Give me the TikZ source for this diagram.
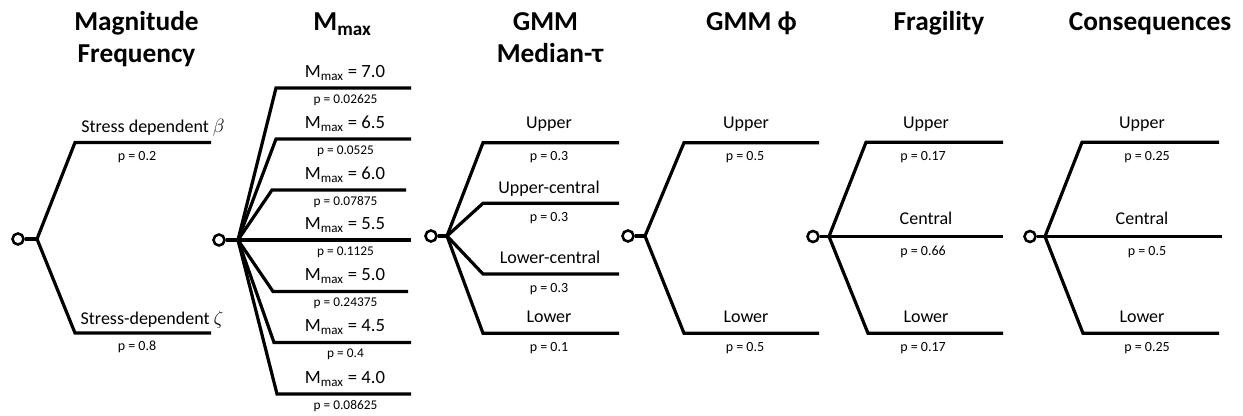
\documentclass[tikz,border=0pt]{standalone}
\usepackage{fontspec}
\setmainfont{Carlito}
\newcommand{\Mmax}{M\textsubscript{max}}

\begin{document}
\begin{tikzpicture}[x=0.75pt, y=-0.75pt,
    branch/.style={line width=2.4pt},
    chance/.style={circle, draw, line width=1.9pt, minimum size=8.3pt, inner sep=0pt},
    title/.style={anchor=base, font=\bfseries\fontsize{20.5}{24}\selectfont},
    lab/.style={anchor=base, font=\fontsize{13.5}{16}\selectfont},
    prob/.style={anchor=base, font=\fontsize{10.5}{12}\selectfont}]
    \useasboundingbox (0,0) rectangle (1243,416);

    % Column titles
    \node[title] (tmag) at (136.5,31) {Magnitude};
    \node[title] (tfreq) at (136.5,63) {Frequency};
    \node[title] (tmmax) at (342.5,31) {\Mmax};
    \node[title] (tgmm) at (545.5,31) {GMM};
    \node[title] (tmed) at (550,63) {Median-τ};
    \node[title] (tphi) at (751.5,31) {GMM ϕ};
    \node[title] (tfrag) at (939,31) {Fragility};
    \node[title] (tcons) at (1150,31) {Consequences};

    % Magnitude frequency: two branches
    \node[chance] (mf) at (18,239) {};
    \coordinate (mfj) at (37,239);
    \coordinate (mfup) at (75,142.5);
    \coordinate (mfupend) at (211,142.5);
    \coordinate (mflo) at (75,333);
    \coordinate (mfloend) at (211,333);
    \draw[branch] (mf) -- (mfj);
    \draw[branch] (mfupend) -- (mfup) -- (mfj) -- (mflo) -- (mfloend);
    \node[lab] (mfuplab) at (153,132.7) {Stress dependent $\beta$};
    \node[prob] (mfupp) at (137,160.7) {p = 0.2};
    \node[lab] (mflolab) at (152,325) {Stress-dependent $\zeta$};
    \node[prob] (mflop) at (137,350.7) {p = 0.8};

    % Mmax: seven branches
    \node[chance] (mm) at (219,240) {};
    \coordinate (mmj) at (238,240);
    \draw[branch] (mm) -- (mmj);
    \foreach \y/\xs/\xe/\m/\p [count=\i] in {88/276/411/7.0/0.02625, 139/276/411/6.5/0.0525,
        190/272/406/6.0/0.07875, 240/260/411/5.5/0.1125, 291.5/273/408/5.0/0.24375,
        342.5/274/411/4.5/0.4, 394/277/411/4.0/0.08625} {
        \coordinate (mm\i) at (\xs,\y);
        \coordinate (mm\i end) at (\xe,\y);
        \draw[branch] (mmj) -- (mm\i) -- (mm\i end);
        \node[lab, font=\fontsize{14}{16}\selectfont] (mmlab\i) at (345,{\y-10.5}) {\Mmax{} = \m};
        \node[prob, font=\fontsize{10}{12}\selectfont] (mmp\i) at (345.5,{\y+15.5}) {p = \p};
    }

    % GMM median-tau: four branches
    \node[chance] (gm) at (431,236) {};
    \coordinate (gmj) at (447,236);
    \coordinate (gm1) at (483,142.7);
    \coordinate (gm2) at (483,203.3);
    \coordinate (gm3) at (483,274);
    \coordinate (gm4) at (483,333.3);
    \coordinate (gm1end) at (619,142.7);
    \coordinate (gm2end) at (619,203.3);
    \coordinate (gm3end) at (619,274);
    \coordinate (gm4end) at (619,333.3);
    \draw[branch] (gm) -- (gmj);
    \draw[branch] (gmj) -- (gm1) -- (gm1end);
    \draw[branch] (gmj) -- (gm2) -- (gm2end);
    \draw[branch] (gmj) -- (gm3) -- (gm3end);
    \draw[branch] (gmj) -- (gm4) -- (gm4end);
    \node[lab] (gm1lab) at (549,128.3) {Upper};
    \node[prob] (gm1p) at (549,160.7) {p = 0.3};
    \node[lab] (gm2lab) at (549,193.3) {Upper-central};
    \node[prob] (gm2p) at (549,221.7) {p = 0.3};
    \node[lab] (gm3lab) at (550,263.3) {Lower-central};
    \node[prob] (gm3p) at (549,292.3) {p = 0.3};
    \node[lab] (gm4lab) at (549,322.7) {Lower};
    \node[prob] (gm4p) at (549,351.7) {p = 0.1};

    % GMM phi: two branches
    \node[chance] (gp) at (628,236) {};
    \coordinate (gpj) at (645,236);
    \coordinate (gpup) at (684,142.7);
    \coordinate (gpupend) at (819,142.7);
    \coordinate (gplo) at (684,333.3);
    \coordinate (gploend) at (819,333.3);
    \draw[branch] (gp) -- (gpj);
    \draw[branch] (gpupend) -- (gpup) -- (gpj) -- (gplo) -- (gploend);
    \node[lab] (gpuplab) at (746,128.3) {Upper};
    \node[prob] (gpupp) at (745,160.7) {p = 0.5};
    \node[lab] (gplolab) at (746,322.7) {Lower};
    \node[prob] (gplop) at (745,351.7) {p = 0.5};

    % Fragility: three branches
    \node[chance] (fr) at (813,236.5) {};
    \coordinate (frj) at (829,236.5);
    \coordinate (frup) at (866,142.3);
    \coordinate (frupend) at (1003,142.3);
    \coordinate (frmidend) at (1003,236.5);
    \coordinate (frlo) at (868,333.3);
    \coordinate (frloend) at (1003,333.3);
    \draw[branch] (fr) -- (frj) -- (frmidend);
    \draw[branch] (frupend) -- (frup) -- (frj) -- (frlo) -- (frloend);
    \node[lab] (fruplab) at (926,128.3) {Upper};
    \node[prob] (frupp) at (923,160.7) {p = 0.17};
    \node[lab] (frmidlab) at (926,224.3) {Central};
    \node[prob] (frmidp) at (923,255.7) {p = 0.66};
    \node[lab] (frlolab) at (926,322.7) {Lower};
    \node[prob] (frlop) at (923,351.7) {p = 0.17};

    % Consequences: three branches
    \node[chance] (cq) at (1030,236.5) {};
    \coordinate (cqj) at (1045,236.5);
    \coordinate (cqup) at (1082,142.3);
    \coordinate (cqupend) at (1219,142.3);
    \coordinate (cqmidend) at (1222,236.5);
    \coordinate (cqlo) at (1083,333.3);
    \coordinate (cqloend) at (1219,333.3);
    \draw[branch] (cq) -- (cqj) -- (cqmidend);
    \draw[branch] (cqupend) -- (cqup) -- (cqj) -- (cqlo) -- (cqloend);
    \node[lab] (cquplab) at (1142,128.3) {Upper};
    \node[prob] (cqupp) at (1147,160.7) {p = 0.25};
    \node[lab] (cqmidlab) at (1142,224.3) {Central};
    \node[prob] (cqmidp) at (1147,255.7) {p = 0.5};
    \node[lab] (cqlolab) at (1142,322.7) {Lower};
    \node[prob] (cqlop) at (1147,351.7) {p = 0.25};
\end{tikzpicture}
\end{document}
